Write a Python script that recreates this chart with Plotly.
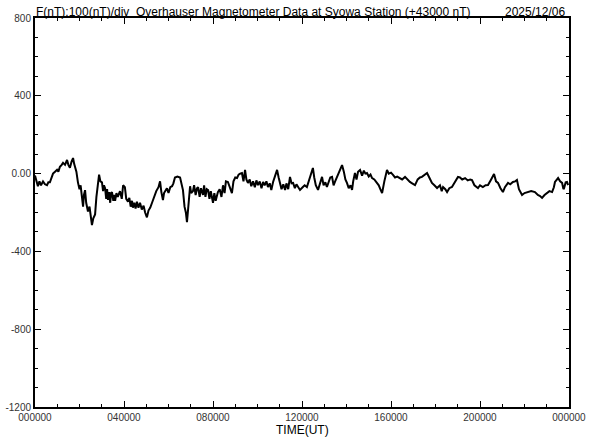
import plotly.graph_objects as go

hours = [0.00,0.06,0.13,0.20,0.27,0.36,0.45,0.54,0.60,0.67,0.74,0.81,0.90,0.99,1.05,1.12,1.20,1.26,1.35,1.44,1.50,1.57,1.64,1.71,1.76,1.80,1.86,1.93,2.00,2.05,2.11,2.16,2.20,2.25,2.30,2.38,2.45,2.50,2.56,2.62,2.70,2.76,2.82,2.88,2.94,3.01,3.06,3.10,3.15,3.20,3.24,3.28,3.33,3.38,3.42,3.46,3.52,3.56,3.60,3.66,3.72,3.82,3.90,3.96,4.04,4.10,4.18,4.24,4.30,4.36,4.40,4.46,4.52,4.58,4.65,4.72,4.80,4.88,4.95,5.03,5.10,5.18,5.26,5.35,5.45,5.55,5.62,5.68,5.75,5.80,5.84,5.93,6.00,6.08,6.16,6.22,6.29,6.40,6.52,6.58,6.65,6.72,6.78,6.83,6.88,6.97,7.02,7.10,7.15,7.22,7.28,7.33,7.40,7.46,7.55,7.60,7.66,7.72,7.78,7.84,7.90,8.00,8.06,8.12,8.22,8.30,8.38,8.45,8.52,8.58,8.67,8.75,8.85,8.92,9.00,9.08,9.15,9.22,9.30,9.37,9.44,9.50,9.57,9.65,9.72,9.80,9.88,9.95,10.02,10.10,10.18,10.25,10.32,10.40,10.47,10.55,10.62,10.70,10.78,10.88,10.95,11.01,11.08,11.16,11.24,11.30,11.38,11.46,11.53,11.60,11.68,11.75,11.82,11.91,12.04,12.12,12.22,12.30,12.38,12.49,12.55,12.62,12.72,12.80,12.90,12.97,13.05,13.12,13.20,13.27,13.35,13.42,13.48,13.56,13.65,13.72,13.80,13.88,13.95,14.02,14.10,14.18,14.25,14.30,14.38,14.45,14.52,14.61,14.70,14.78,14.85,14.92,15.00,15.08,15.15,15.25,15.37,15.45,15.52,15.60,15.70,15.82,15.90,16.00,16.09,16.18,16.28,16.40,16.50,16.63,16.72,16.85,16.95,17.08,17.20,17.30,17.39,17.50,17.62,17.72,17.84,17.95,18.07,18.20,18.28,18.34,18.44,18.52,18.62,18.74,18.85,19.01,19.10,19.20,19.33,19.45,19.56,19.64,19.75,19.84,19.91,20.00,20.13,20.25,20.36,20.50,20.63,20.72,20.81,20.92,21.03,21.12,21.26,21.36,21.48,21.58,21.66,21.75,21.89,22.00,22.16,22.30,22.47,22.60,22.70,22.79,22.90,23.01,23.12,23.24,23.32,23.37,23.45,23.51,23.60,23.69,23.75,23.78,23.85,23.91,23.96]

f_nt = [-10,-30,-65,-40,-60,-40,-55,-60,-45,-45,-20,0,10,20,10,35,45,55,45,70,45,30,60,80,50,35,10,-45,-80,-60,-120,-170,-110,-85,-150,-195,-170,-230,-265,-230,-210,-120,-40,-5,-40,-45,-90,-60,-75,-130,-80,-135,-95,-150,-100,-95,-140,-110,-140,-100,-120,-90,-130,-60,-70,-130,-145,-125,-170,-140,-175,-150,-180,-145,-175,-150,-185,-165,-200,-225,-190,-175,-150,-120,-90,-70,-40,-95,-136,-100,-90,-75,-100,-70,-65,-50,-20,-15,-20,-60,-85,-170,-200,-250,-180,-65,-100,-90,-60,-110,-75,-70,-120,-75,-110,-60,-120,-80,-85,-130,-90,-150,-100,-140,-95,-80,-120,-60,-100,-40,-43,-70,-100,-40,-20,-23,-5,0,3,-40,19,-30,-48,-30,-65,-40,-70,-35,-59,-40,-75,-43,-60,-40,-69,-50,-85,-43,-20,19,-20,-48,-80,-55,-84,-50,-80,-17,-50,-48,-75,-55,-69,-84,-69,-60,-69,-40,-10,29,-20,-60,-84,-50,-17,-60,-45,-69,-40,-20,-17,-60,-43,-20,10,30,44,10,-30,-48,-75,-60,-84,-40,3,-30,10,19,-10,15,0,3,-15,-5,-23,-30,-48,-60,-80,-100,-40,19,0,5,-7,-20,-15,-23,-30,-17,-30,-43,-50,-59,-30,-20,-17,-5,3,-20,-48,-60,-74,-60,-90,-69,-80,-95,-75,-69,-45,-17,-20,-30,-23,-35,-30,-33,-60,-70,-74,-60,-69,-60,-59,-30,-2,-40,-48,-75,-95,-70,-48,-55,-43,-40,-33,-80,-110,-100,-95,-90,-95,-110,-115,-125,-110,-100,-90,-95,-70,-43,-30,-23,-40,-48,-80,-74,-45,-43,-59]

x_tick_vals = [0, 4, 8, 12, 16, 20, 24]
x_tick_text = ["000000", "040000", "080000", "120000", "160000", "200000", "000000"]
y_tick_vals = [800, 400, 0, -400, -800, -1200]
y_tick_text = ["800", "400", "0.00", "-400", "-800", "-1200"]

title_text = "F(nT):100(nT)/div  Overhauser Magnetometer Data at Syowa Station (+43000 nT)"
date_text = "2025/12/06"
x_title = "TIME(UT)"

FONT = "Liberation Sans, Arial, sans-serif"

fig = go.Figure()
fig.add_trace(go.Scatter(x=hours, y=f_nt, mode="lines",
                         line=dict(color="black", width=2), hoverinfo="skip",
                         showlegend=False))

fig.update_layout(
    width=592, height=440,
    margin=dict(l=35, r=23, t=18, b=33, autoexpand=False),
    paper_bgcolor="white", plot_bgcolor="white",
    font=dict(family=FONT, color="black"),
    xaxis=dict(range=[0, 24], tickvals=x_tick_vals, ticktext=x_tick_text,
               ticks="inside", ticklen=6, tickwidth=1, tickcolor="black",
               showline=True, linecolor="black", linewidth=2, mirror="ticks",
               showgrid=False, zeroline=False, automargin=False,
               tickfont=dict(size=10, color="#333333"), ticklabelstandoff=0,
               minor=dict(dtick=1, ticks="inside", ticklen=3, tickcolor="black", tickwidth=1)),
    yaxis=dict(range=[-1200, 800], tickvals=y_tick_vals, ticktext=y_tick_text,
               ticks="inside", ticklen=6, tickwidth=1, tickcolor="black",
               showline=True, linecolor="black", linewidth=2, mirror="ticks",
               showgrid=False, zeroline=False, automargin=False,
               tickfont=dict(size=10, color="#333333"), ticklabelstandoff=0,
               minor=dict(dtick=100, ticks="inside", ticklen=3, tickcolor="black", tickwidth=1)),
    annotations=[
        dict(text=title_text, xref="paper", yref="paper", x=0, y=1,
             xanchor="left", yanchor="bottom", showarrow=False,
             font=dict(size=12, color="black"), xshift=-1, yshift=-3),
        dict(text=date_text, xref="paper", yref="paper", x=1, y=1,
             xanchor="right", yanchor="bottom", showarrow=False,
             font=dict(size=12, color="black"), xshift=-2, yshift=-3),
        dict(text=x_title, xref="paper", yref="paper", x=0.5, y=0,
             xanchor="center", yanchor="top", showarrow=False,
             font=dict(size=12, color="black"), yshift=-14),
    ],
)

fig.write_html("out.html",
               config={"displayModeBar": False, "staticPlot": True},
               post_script="document.body.style.margin='0';document.body.style.padding='0';document.body.style.overflow='hidden';")
